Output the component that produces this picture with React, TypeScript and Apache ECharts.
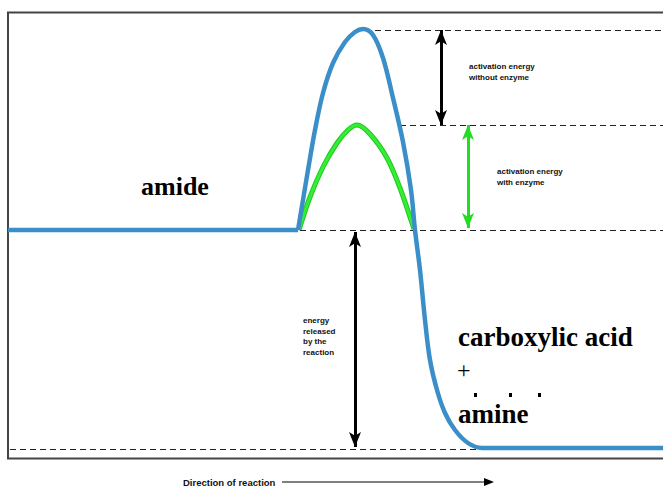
import React, { useEffect, useRef } from "react";
import * as echarts from "echarts";

// reaction progress (x) and energy (y) values
const reactantLevel: [number, number][] = [
  [0, 229], [290, 229],
];
const uncatalysedPath: [number, number][] = [
  [290, 229], [295, 259], [300, 289], [307, 329], [315, 366], [325, 396], [337, 417],
  [347, 427], [355, 430], [365, 424], [375, 401], [385, 361], [395, 317], [403, 269],
  [407, 229], [412, 189], [417, 139], [422, 99], [429, 69], [437, 46], [447, 29],
  [460, 16], [474, 11], [655, 11],
];
const enzymePath: [number, number][] = [
  [291, 229], [302, 262], [315, 292], [329, 316], [340, 329], [349, 334], [362, 325],
  [379, 301], [392, 271], [405, 233], [406, 230],
];
// dashed reference levels: [energy, fromX, toX]
const dashedLevels: [number, number, number][] = [
  [429, 357, 655],
  [334, 392, 655],
  [229, 292, 655],
  [10, 2, 472],
];
// energy arrows: [x, fromEnergy, toEnergy]
const blackArrows: [number, number, number][] = [
  [433, 429, 334],
  [347, 227, 12],
];
const greenArrows: [number, number, number][] = [[460, 334, 231]];

const reactantLabel = "amide";
const productLabel1 = "carboxylic acid";
const productLabel2 = "+";
const productLabel3 = "amine";
const noteWithout = "activation energy\nwithout enzyme";
const noteWith = "activation energy\nwith enzyme";
const noteReleased = "energy\nreleased\nby the\nreaction";
const directionLabel = "Direction of reaction";

export default function App() {
  const ref = useRef<HTMLDivElement>(null);
  useEffect(() => {
    document.body.style.margin = "0";
    const chart = echarts.init(ref.current!, undefined, { renderer: "svg" });
    const serif = "'Liberation Serif', 'Times New Roman', serif";
    const sans = "'Liberation Sans', Arial, sans-serif";
    const blue = { color: "#3b8fc9", width: 4.5 };
    chart.setOption({
      animation: false,
      backgroundColor: "#ffffff",
      grid: {
        left: 8,
        top: 12,
        right: 0,
        height: 447,
        show: false,
      },
      xAxis: { type: "value", min: 0, max: 655, show: false },
      yAxis: { type: "value", min: 0, max: 447, show: false },
      series: [
        {
          type: "line",
          data: [],
          silent: true,
          markLine: {
            silent: true,
            symbol: "none",
            label: { show: false },
            lineStyle: { color: "#222222", width: 1, type: [6, 4] },
            data: dashedLevels.map(([e, x0, x1]) => [
              { coord: [x0, e] },
              { coord: [x1, e] },
            ]),
          },
        },
        {
          type: "line",
          data: enzymePath,
          smooth: 0.35,
          showSymbol: false,
          silent: true,
          lineStyle: { color: "#22c822", width: 5 },
          z: 3,
        },
        {
          type: "line",
          data: enzymePath,
          smooth: 0.35,
          showSymbol: false,
          silent: true,
          lineStyle: { color: "#33ee33", width: 3 },
          z: 4,
        },
        {
          type: "line",
          data: reactantLevel,
          showSymbol: false,
          silent: true,
          lineStyle: blue,
          z: 5,
        },
        {
          type: "line",
          data: uncatalysedPath,
          smooth: 0.35,
          showSymbol: false,
          silent: true,
          lineStyle: blue,
          z: 5,
        },
        {
          type: "line",
          data: [],
          silent: true,
          markLine: {
            silent: true,
            symbol: ["arrow", "arrow"],
            symbolSize: [9, 15],
            label: { show: false },
            lineStyle: { color: "#000000", width: 3, type: "solid" },
            data: blackArrows.map(([x, e0, e1]) => [
              { coord: [x, e0] },
              { coord: [x, e1] },
            ]),
          },
        },
        {
          type: "line",
          data: [],
          silent: true,
          markLine: {
            silent: true,
            symbol: ["arrow", "arrow"],
            symbolSize: [9, 15],
            label: { show: false },
            lineStyle: { color: "#22dd22", width: 3, type: "solid" },
            data: greenArrows.map(([x, e0, e1]) => [
              { coord: [x, e0] },
              { coord: [x, e1] },
            ]),
          },
        },
      ],
      graphic: [
        {
          type: "rect",
          shape: { x: 8, y: 12.5, width: 720, height: 446 },
          style: { fill: "none", stroke: "#444444", lineWidth: 2 },
          silent: true,
        },
        {
          type: "text",
          x: 141,
          y: 186,
          style: { text: reactantLabel, font: `bold 26px ${serif}`, fill: "#000", verticalAlign: "middle" },
        },
        {
          type: "text",
          x: 458,
          y: 337,
          style: { text: productLabel1, font: `bold 27px ${serif}`, fill: "#000", verticalAlign: "middle" },
        },
        {
          type: "text",
          x: 457,
          y: 370,
          style: { text: productLabel2, font: `24px ${serif}`, fill: "#000", verticalAlign: "middle" },
        },
        { type: "rect", shape: { x: 474, y: 393, width: 3, height: 4 }, style: { fill: "#000" } },
        { type: "rect", shape: { x: 509, y: 393, width: 3, height: 4 }, style: { fill: "#000" } },
        { type: "rect", shape: { x: 538, y: 393, width: 3, height: 4 }, style: { fill: "#000" } },
        {
          type: "text",
          x: 458,
          y: 414,
          style: { text: productLabel3, font: `bold 27px ${serif}`, fill: "#000", verticalAlign: "middle" },
        },
        {
          type: "text",
          x: 469,
          y: 61,
          style: { text: noteWithout, font: `bold 8px ${sans}`, lineHeight: 11, fill: "#111" },
        },
        {
          type: "text",
          x: 497,
          y: 166,
          style: { text: noteWith, font: `bold 8px ${sans}`, lineHeight: 11, fill: "#111" },
        },
        {
          type: "text",
          x: 303,
          y: 315,
          style: { text: noteReleased, font: `bold 8px ${sans}`, lineHeight: 10.7, fill: "#111" },
        },
        {
          type: "text",
          x: 183,
          y: 482,
          style: { text: directionLabel, font: `bold 9.5px ${sans}`, fill: "#111", verticalAlign: "middle" },
        },
        {
          type: "line",
          shape: { x1: 282, y1: 482, x2: 487, y2: 482 },
          style: { stroke: "#000", lineWidth: 1 },
        },
        {
          type: "polygon",
          shape: { points: [[484, 478], [494, 482], [484, 486]] },
          style: { fill: "#000" },
        },
      ],
    });
    return () => chart.dispose();
  }, []);
  return <div ref={ref} style={{ width: 663, height: 487 }} />;
}
